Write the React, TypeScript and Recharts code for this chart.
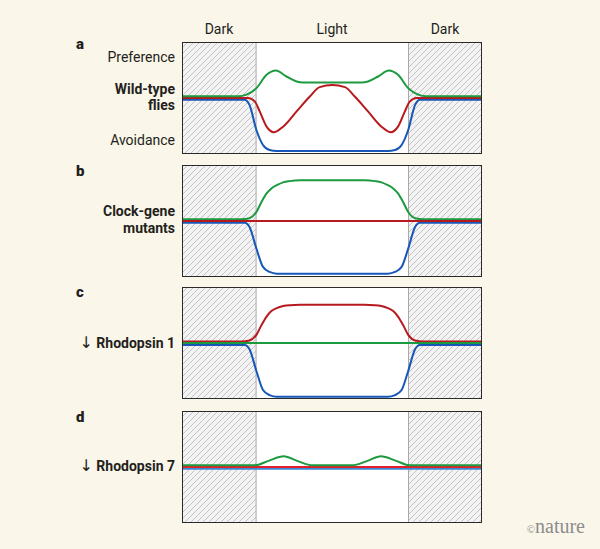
import React from 'react'
import { ComposedChart, Line, XAxis, YAxis, ReferenceArea, ReferenceLine } from 'recharts'

// time runs 0..100 across each box; light phase between these two points
const lightOn = 24.7
const lightOff = 75.5

// response: +50 = preference, -50 = avoidance, 0 = neutral
// a: wild-type flies
const aGreenX = [0, 18.7, 21.5, 24.8, 28.2, 31.3, 34.8, 38.2, 40.3, 59.9, 62.0, 65.4, 68.9, 72.0, 75.4, 78.7, 81.5, 100]
const aGreenY = [1.5, 1.5, 3, 8.8, 20.7, 24.5, 19.2, 14.7, 13.8, 13.8, 14.7, 19.2, 24.5, 20.7, 8.8, 3, 1.5, 1.5]
const aRedX = [0, 22.0, 24.3, 25.9, 28.2, 30.6, 33.7, 38.2, 42.6, 45.9, 50.1, 54.3, 57.6, 62.0, 66.5, 69.6, 72.0, 74.3, 75.9, 78.2, 100]
const aRedY = [0, 0, -3.2, -12, -25.6, -30.6, -25.6, -12, 1.3, 9.7, 11.5, 9.7, 1.3, -12, -25.6, -30.6, -25.6, -12, -3.2, 0, 0]
const aBlueX = [0, 20.9, 22.5, 24.8, 27.0, 29.2, 31.6, 68.6, 71.0, 73.2, 75.4, 77.7, 79.3, 100]
const aBlueY = [-1.5, -1.5, -6.2, -28.6, -42, -46.5, -47.4, -47.4, -46.5, -42, -28.6, -6.2, -1.5, -1.5]

// b: clock-gene mutants
const bGreenX = [0, 19.8, 22.5, 24.8, 26.5, 28.2, 29.8, 31.6, 33.7, 35.9, 39.4, 60.8, 64.3, 66.5, 68.6, 70.4, 72.0, 73.7, 75.4, 77.7, 80.4, 100]
const bGreenY = [1.6, 1.6, 2.5, 8, 17, 24.6, 29.1, 32, 34.5, 35.6, 36.3, 36.3, 35.6, 34.5, 32, 29.1, 24.6, 17, 8, 2.5, 1.6, 1.6]
const bRedX = [0, 100]
const bRedY = [0, 0]
const bBlueX = [0, 20.9, 22.5, 24.8, 27.0, 29.2, 31.6, 68.6, 71.0, 73.2, 75.4, 77.7, 79.3, 100]
const bBlueY = [-1.6, -1.6, -5.3, -24.6, -41, -45.5, -47, -47, -45.5, -41, -24.6, -5.3, -1.6, -1.6]

// c: reduced rhodopsin 1
const cRedX = [0, 19.8, 22.5, 24.8, 26.5, 28.2, 29.8, 31.6, 33.7, 35.9, 39.4, 60.8, 64.3, 66.5, 68.6, 70.4, 72.0, 73.7, 75.4, 77.7, 80.4, 100]
const cRedY = [1.3, 1.3, 2.3, 7.3, 16, 23.6, 28.5, 31.2, 33, 33.8, 34.1, 34.1, 33.8, 33, 31.2, 28.5, 23.6, 16, 7.3, 2.3, 1.3, 1.3]
const cGreenX = [0, 100]
const cGreenY = [0, 0]
const cBlueX = [0, 20.9, 22.5, 24.8, 27.0, 29.2, 31.6, 68.6, 71.0, 73.2, 75.4, 77.7, 79.3, 100]
const cBlueY = [-1.7, -1.7, -5.5, -25, -42, -46.5, -48, -48, -46.5, -42, -25, -5.5, -1.7, -1.7]

// d: reduced rhodopsin 7
const dGreenX = [0, 24.3, 28.8, 33.9, 38.4, 43.5, 56.7, 61.8, 66.3, 71.4, 75.9, 100]
const dGreenY = [1.5, 1.5, 5.5, 9.5, 5.5, 1.5, 1.5, 5.5, 9.5, 5.5, 1.5, 1.5]
const dRedX = [0, 100]
const dRedY = [0, 0]
const dBlueX = [0, 100]
const dBlueY = [-1.5, -1.5]

const GREEN = '#1b9a3f'
const RED = '#b8191e'
const BLUE = '#1657b8'
const BRIGHT_RED = '#e3202a'
const LIGHT_BLUE = '#3a86d6'

const zip = (xs: number[], ys: number[]) => xs.map((x, i) => ({ x, y: ys[i] }))

type Series = { xs: number[]; ys: number[]; color: string }

function Panel({ id, top, series }: { id: string; top: number; series: Series[] }) {
  return (
    <div style={{ position: 'absolute', left: 182, top, width: 300, height: 112, background: '#fff' }}>
      <ComposedChart width={300} height={112} margin={{ top: 0, right: 0, bottom: 0, left: 0 }}>
        <defs>
          <pattern id={id} patternUnits="userSpaceOnUse" width="6" height="6">
            <rect width="6" height="6" fill="#f3f3f3" />
            <path d="M-1,1 l2,-2 M0,6 l6,-6 M5,7 l2,-2" stroke="#c4c4c4" strokeWidth="1" />
          </pattern>
        </defs>
        <XAxis type="number" dataKey="x" domain={[0, 100]} hide />
        <YAxis type="number" dataKey="y" domain={[-50, 50]} hide />
        <ReferenceArea x1={0} x2={lightOn} fill={`url(#${id})`} fillOpacity={1} stroke="none" />
        <ReferenceArea x1={lightOff} x2={100} fill={`url(#${id})`} fillOpacity={1} stroke="none" />
        <ReferenceLine x={lightOn} stroke="#a9a9a9" strokeWidth={1} />
        <ReferenceLine x={lightOff} stroke="#a9a9a9" strokeWidth={1} />
        {series.map((s, i) => (
          <Line
            key={i}
            data={zip(s.xs, s.ys)}
            dataKey="y"
            type="monotone"
            stroke={s.color}
            strokeWidth={2}
            dot={false}
            activeDot={false}
            isAnimationActive={false}
          />
        ))}
      </ComposedChart>
      <div style={{ position: 'absolute', inset: 0, border: '1.8px solid #2a2a2a', pointerEvents: 'none' }} />
    </div>
  )
}

const font = 'Roboto, "Noto Sans", sans-serif'
const ink = '#231f20'
const arrowFont = '"DejaVu Sans", sans-serif'

export default function App() {
  return (
    <div style={{ position: 'absolute', left: 0, top: 0, width: 600, height: 549, background: '#faf6e9', overflow: 'hidden' }}>
      <svg width={600} height={549} style={{ position: 'absolute', left: 0, top: 0 }} fontFamily={font} fill={ink}>
        <text x={219} y={34} fontSize={14} textAnchor="middle">Dark</text>
        <text x={332} y={34} fontSize={14} textAnchor="middle">Light</text>
        <text x={445} y={34} fontSize={14} textAnchor="middle">Dark</text>

        <text x={76} y={49} fontSize={15} fontWeight={900}>a</text>
        <text x={175} y={62} fontSize={14} textAnchor="end">Preference</text>
        <text x={175} y={93.5} fontSize={14} fontWeight={700} textAnchor="end">Wild-type</text>
        <text x={175} y={110} fontSize={14} fontWeight={700} textAnchor="end">flies</text>
        <text x={175} y={145} fontSize={14} textAnchor="end">Avoidance</text>

        <text x={76} y={176} fontSize={15} fontWeight={900}>b</text>
        <text x={175} y={216} fontSize={14} fontWeight={700} textAnchor="end">Clock-gene</text>
        <text x={175} y={232.5} fontSize={14} fontWeight={700} textAnchor="end">mutants</text>

        <text x={76} y={297} fontSize={15} fontWeight={900}>c</text>
        <text x={175} y={347.5} fontSize={14} textAnchor="end">
          <tspan fontFamily={arrowFont} fontSize={16}>↓</tspan>
          <tspan fontWeight={700}> Rhodopsin 1</tspan>
        </text>

        <text x={76} y={421.5} fontSize={15} fontWeight={900}>d</text>
        <text x={175} y={471} fontSize={14} textAnchor="end">
          <tspan fontFamily={arrowFont} fontSize={16}>↓</tspan>
          <tspan fontWeight={700}> Rhodopsin 7</tspan>
        </text>

        <text x={585} y={533} textAnchor="end" fill="#8c8c8c" fontFamily='"Liberation Serif", "DejaVu Serif", serif'>
          <tspan fontSize={11}>©</tspan>
          <tspan fontSize={20}>nature</tspan>
        </text>
      </svg>

      <Panel id="hatchA" top={42} series={[
        { xs: aBlueX, ys: aBlueY, color: BLUE },
        { xs: aRedX, ys: aRedY, color: RED },
        { xs: aGreenX, ys: aGreenY, color: GREEN },
      ]} />
      <Panel id="hatchB" top={165} series={[
        { xs: bBlueX, ys: bBlueY, color: BLUE },
        { xs: bGreenX, ys: bGreenY, color: GREEN },
        { xs: bRedX, ys: bRedY, color: RED },
      ]} />
      <Panel id="hatchC" top={287} series={[
        { xs: cBlueX, ys: cBlueY, color: BLUE },
        { xs: cRedX, ys: cRedY, color: RED },
        { xs: cGreenX, ys: cGreenY, color: GREEN },
      ]} />
      <Panel id="hatchD" top={410.5} series={[
        { xs: dBlueX, ys: dBlueY, color: LIGHT_BLUE },
        { xs: dRedX, ys: dRedY, color: BRIGHT_RED },
        { xs: dGreenX, ys: dGreenY, color: GREEN },
      ]} />
    </div>
  )
}
